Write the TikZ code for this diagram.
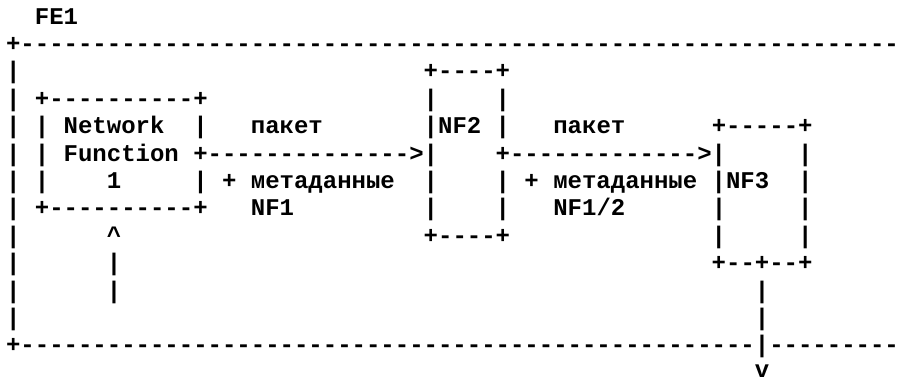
\documentclass[tikz,border=0pt]{standalone}
\usepackage{fontspec}
\setmonofont{Liberation Mono}
\newlength\cw
\setlength\cw{14.4pt}
\ExplSyntaxOn
\cs_new:Npn \dshs #1 { \prg_replicate:nn {#1} {-} }
\ExplSyntaxOff
\newcommand\sk[1]{\kern#1\cw\relax}
\begin{document}
\begin{tikzpicture}[x=1pt,y=1pt,
  row/.style={anchor=base west,inner sep=0pt,outer sep=0pt,
    font=\fontsize{24}{27}\selectfont\ttfamily\bfseries}]
\fill[white] (0,0) rectangle (905,-380);
\useasboundingbox (0,0) rectangle (905,-380);
\def\xo{6.1}
\node[row] (r0)  at (\xo,-24.0)  {\sk{2}FE1};
\node[row] (r1)  at (\xo,-51.4)  {+\dshs{61}};
\node[row] (r2)  at (\xo,-78.8)  {|\sk{28}+\dshs{4}+};
\node[row] (r3)  at (\xo,-106.2) {|\sk{1}+\dshs{10}+\sk{15}|\sk{4}|};
\node[row] (r4)  at (\xo,-133.6) {|\sk{1}|\sk{1}Network\sk{2}|\sk{3}пакет\sk{7}|NF2\sk{1}|\sk{3}пакет\sk{6}+\dshs{5}+};
\node[row] (r5)  at (\xo,-161.0) {|\sk{1}|\sk{1}Function\sk{1}+\dshs{14}>|\sk{4}+\dshs{13}>|\sk{5}|};
\node[row] (r6)  at (\xo,-188.4) {|\sk{1}|\sk{4}1\sk{5}|\sk{1}+\sk{1}метаданные\sk{2}|\sk{4}|\sk{1}+\sk{1}метаданные\sk{1}|NF3\sk{2}|};
\node[row] (r7)  at (\xo,-215.8) {|\sk{1}+\dshs{10}+\sk{3}NF1\sk{9}|\sk{4}|\sk{3}NF1/2\sk{6}|\sk{5}|};
\node[row] (r8)  at (\xo,-243.2) {|\sk{6}\textasciicircum\sk{21}+\dshs{4}+\sk{14}|\sk{5}|};
\node[row] (r9)  at (\xo,-270.6) {|\sk{6}|\sk{41}+\dshs{2}+\dshs{2}+};
\node[row] (r10) at (\xo,-298.0) {|\sk{6}|\sk{44}|};
\node[row] (r11) at (\xo,-325.4) {|\sk{51}|};
\node[row] (r12) at (\xo,-352.8) {+\dshs{51}|\dshs{9}};
\node[row,text depth=0pt] (r13) at (\xo,-377.0) {\sk{52}v};
\end{tikzpicture}
\end{document}
